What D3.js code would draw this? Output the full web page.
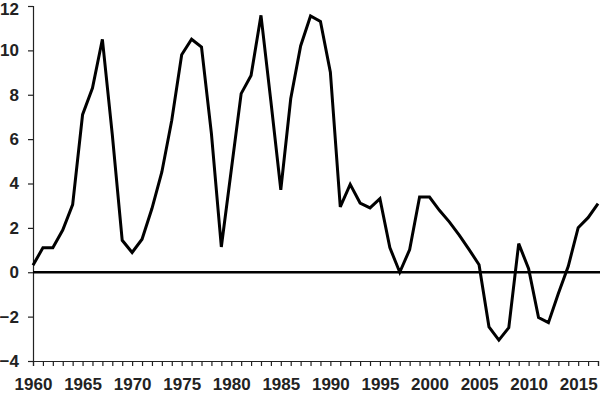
<!DOCTYPE html>
<html><head><meta charset="utf-8">
<script src="https://cdn.jsdelivr.net/npm/d3@7"></script>
<style>body{margin:0;background:#fff}svg{display:block}</style>
</head><body>
<svg id="c" width="600" height="394"></svg>
<script>
const years = d3.range(1960, 2018);
const values = [0.32,1.1,1.1,1.9,3.05,7.1,8.3,10.5,6.2,1.44,0.89,1.49,2.87,4.52,6.85,9.8,10.5,10.15,6.25,1.14,4.6,8.05,8.87,11.58,7.7,3.72,7.82,10.2,11.55,11.3,9.02,2.95,3.96,3.12,2.9,3.32,1.11,0.0,1.02,3.39,3.39,2.79,2.27,1.67,1.02,0.34,-2.46,-3.06,-2.5,1.29,0.16,-2.04,-2.27,-0.96,0.27,2.01,2.46,3.09];
const yTicks = [-4,-2,0,2,4,6,8,10,12];
const xLabels = [1960,1965,1970,1975,1980,1985,1990,1995,2000,2005,2010,2015];

const svg = d3.select("#c");
const m = {l:33, r:2, t:6, b:33};
const W = 600, H = 394;
const x = d3.scaleLinear().domain([1960,2017]).range([m.l, W-m.r]);
const y = d3.scaleLinear().domain([-4,12]).range([H-m.b, m.t]);
const font = "'Liberation Sans', Arial, Helvetica, sans-serif";

// y axis
const ya = svg.append("g").attr("transform",`translate(${m.l},0)`)
  .call(d3.axisLeft(y).tickValues(yTicks).tickSize(5).tickPadding(9).tickFormat(d3.format("d")));
ya.select(".domain").attr("stroke","#222").attr("stroke-width",1.2);
ya.selectAll(".tick line").attr("stroke","#222").attr("stroke-width",1.2);
ya.selectAll("text").attr("font-family",font).attr("font-weight","bold").attr("font-size",17).attr("fill","#222");
ya.selectAll(".tick").filter(d => d === 12).select("text").attr("dy","0.5em");

// x axis
const xa = svg.append("g").attr("transform",`translate(0,${H-m.b})`)
  .call(d3.axisBottom(x).tickValues(years).tickSize(5).tickPadding(12)
    .tickFormat(d => xLabels.includes(d) ? d : ""));
xa.select(".domain").attr("stroke","#222").attr("stroke-width",1.2);
xa.selectAll(".tick line").attr("stroke","#222").attr("stroke-width",1.2);
xa.selectAll("text").attr("font-family",font).attr("font-weight","bold").attr("font-size",17).attr("fill","#222");

// zero line
svg.append("line").attr("x1",m.l).attr("x2",W).attr("y1",y(0)).attr("y2",y(0))
  .attr("stroke","#000").attr("stroke-width",2.5);

// data line
const line = d3.line().x((d,i)=>x(years[i])).y(d=>y(d));
svg.append("path").datum(values).attr("d",line).attr("fill","none")
  .attr("stroke","#000").attr("stroke-width",3).attr("stroke-linejoin","miter");
</script>
</body></html>
